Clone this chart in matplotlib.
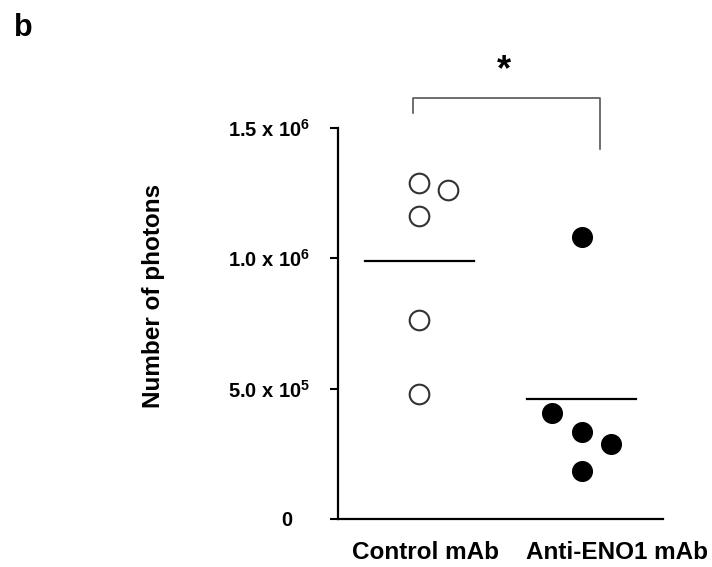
import matplotlib
matplotlib.use("Agg")
import matplotlib.pyplot as plt
import matplotlib.transforms as mtransforms

plt.rcParams["font.family"] = ["Liberation Sans", "DejaVu Sans"]
plt.rcParams["font.weight"] = "bold"
plt.rcParams["mathtext.fontset"] = "custom"
plt.rcParams["mathtext.rm"] = "Liberation Sans:bold"
plt.rcParams["mathtext.it"] = "Liberation Sans:bold"
plt.rcParams["mathtext.bf"] = "Liberation Sans:bold"

# ── Data ──────────────────────────────────────────────────────────────────────
GROUPS = ["Control mAb", "Anti-ENO1 mAb"]
CONTROL_PHOTONS = [1.289e6, 1.262e6, 1.163e6, 0.764e6, 0.480e6]
ANTI_ENO1_PHOTONS = [1.082e6, 0.407e6, 0.334e6, 0.288e6, 0.184e6]
Y_TICKS = [0, 5.0e5, 1.0e6, 1.5e6]
Y_TICK_LABELS = ["0", "5.0 x 10$^5$", "1.0 x 10$^6$", "1.5 x 10$^6$"]

# horizontal jitter of the dots (layout only)
CONTROL_JITTER = [0, 0.18, 0, 0, 0]
ANTI_JITTER = [0, -0.18, 0, 0.18, 0]

fig = plt.figure(figsize=(7.12, 5.67), dpi=100)
ax = fig.add_axes([338 / 712, 48 / 567, 325 / 712, 391 / 567])

pos = [1, 2]
ax.scatter([pos[0] + j for j in CONTROL_JITTER], CONTROL_PHOTONS, s=200,
           facecolors="white", edgecolors="#333333", linewidths=1.5, zorder=3)
ax.scatter([pos[1] + j for j in ANTI_JITTER], ANTI_ENO1_PHOTONS, s=200,
           facecolors="black", edgecolors="black", linewidths=1.0, zorder=3)

# group means
for p, vals in zip(pos, [CONTROL_PHOTONS, ANTI_ENO1_PHOTONS]):
    m = sum(vals) / len(vals)
    ax.plot([p - 0.335, p + 0.335], [m, m], color="black", lw=1.6)

ax.set_xlim(0.5, 2.5)
ax.set_ylim(0, 1.5e6)
ax.set_yticks(Y_TICKS)
ax.set_yticklabels(Y_TICK_LABELS, fontsize=14.5, fontweight="bold")
ax.set_xticks(pos)
ax.set_xticklabels(GROUPS, fontsize=17.5, fontweight="bold")
ax.tick_params(axis="y", direction="out", length=6, width=1.5, pad=14)
ax.tick_params(axis="x", length=0, pad=16)

# labels in the reference sit a bit off their groups
for lab, dx in zip(ax.get_xticklabels(), [6, 35]):
    lab.set_transform(lab.get_transform() +
                      mtransforms.ScaledTranslation(dx / 100, 0, fig.dpi_scale_trans))
zero_lab = ax.get_yticklabels()[0]
zero_lab.set_transform(zero_lab.get_transform() +
                       mtransforms.ScaledTranslation(-18 / 100, 0, fig.dpi_scale_trans))

for side in ["top", "right"]:
    ax.spines[side].set_visible(False)
for side in ["left", "bottom"]:
    ax.spines[side].set_linewidth(1.6)

ax.set_ylabel("Number of photons", fontsize=17.5, fontweight="bold")
ax.yaxis.set_label_coords(-0.533, 0.57)

# significance bracket
ax.plot([0.963, 0.963, 2.11, 2.11], [1.558e6, 1.616e6, 1.616e6, 1.420e6],
        color="#555555", lw=1.2, clip_on=False)
ax.text(1.52, 1.72e6, "*", ha="center", va="center", fontsize=26,
        fontweight="bold")

fig.text(14 / 712, 1 - 28 / 567, "b", fontsize=22, fontweight="bold",
         ha="left", va="center")

fig.savefig("out.png", dpi=100)
